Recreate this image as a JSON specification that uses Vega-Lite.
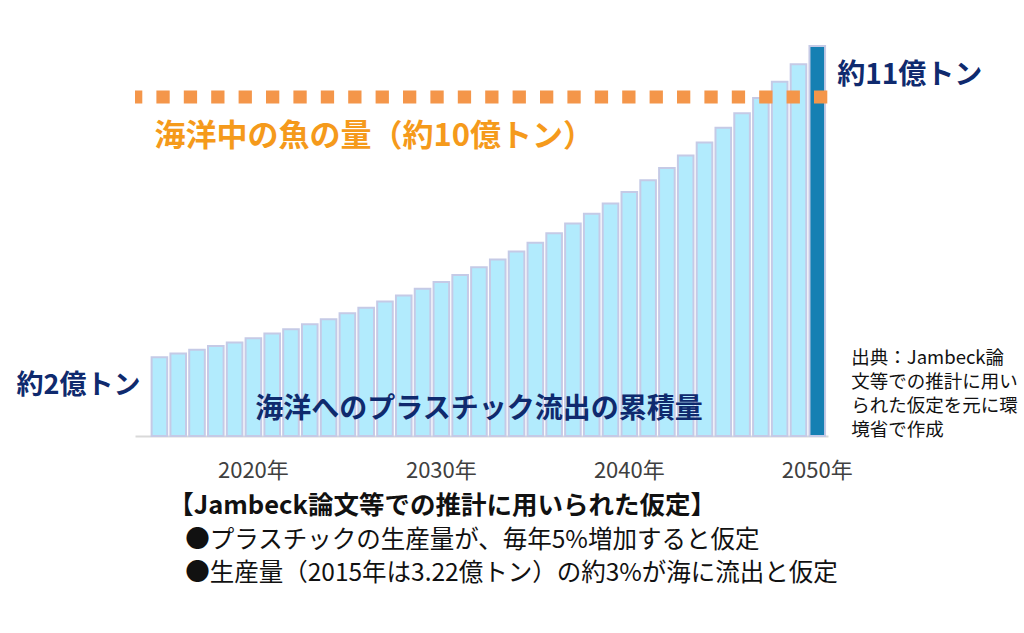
{
  "$schema": "https://vega.github.io/schema/vega-lite/v6.json",
  "width": 693,
  "height": 400,
  "autosize": {"type": "none"},
  "padding": {"left": 135, "top": 36, "right": 196, "bottom": 197},
  "background": "white",
  "config": {"view": {"stroke": null}, "font": "Noto Sans CJK JP", "text": {"font": "Noto Sans CJK JP"}},
  "datasets": {
    "outflow": [
      {"year": 2015, "value": 2.22}, {"year": 2016, "value": 2.33}, {"year": 2017, "value": 2.43},
      {"year": 2018, "value": 2.54}, {"year": 2019, "value": 2.64}, {"year": 2020, "value": 2.76},
      {"year": 2021, "value": 2.89}, {"year": 2022, "value": 3.01}, {"year": 2023, "value": 3.15},
      {"year": 2024, "value": 3.29}, {"year": 2025, "value": 3.46}, {"year": 2026, "value": 3.62},
      {"year": 2027, "value": 3.79}, {"year": 2028, "value": 3.96}, {"year": 2029, "value": 4.15},
      {"year": 2030, "value": 4.34}, {"year": 2031, "value": 4.54}, {"year": 2032, "value": 4.76},
      {"year": 2033, "value": 4.98}, {"year": 2034, "value": 5.20}, {"year": 2035, "value": 5.45},
      {"year": 2036, "value": 5.72}, {"year": 2037, "value": 5.99}, {"year": 2038, "value": 6.27},
      {"year": 2039, "value": 6.56}, {"year": 2040, "value": 6.88}, {"year": 2041, "value": 7.21},
      {"year": 2042, "value": 7.56}, {"year": 2043, "value": 7.91}, {"year": 2044, "value": 8.28},
      {"year": 2045, "value": 8.69}, {"year": 2046, "value": 9.10}, {"year": 2047, "value": 9.53},
      {"year": 2048, "value": 9.99}, {"year": 2049, "value": 10.48}, {"year": 2050, "value": 11.00}
    ],
    "one": [{"n": 1}]
  },
  "data": {"name": "one"},
  "layer": [
    {
      "data": {"name": "outflow"},
      "mark": {"type": "bar", "stroke": "#c5cae6", "strokeWidth": 2},
      "encoding": {
        "x": {
          "field": "year", "type": "ordinal",
          "scale": {"paddingInner": 0.17, "paddingOuter": 0.52, "align": 0.85},
          "axis": {
            "title": null, "labelAngle": 0, "ticks": false, "domain": true,
            "domainColor": "#d9d9d9", "domainWidth": 2, "labelOverlap": false,
            "labelExpr": "datum.value % 10 == 0 ? datum.value + '年' : ''",
            "labelFontSize": 22, "labelColor": "#404040", "labelPadding": 24,
            "labelFont": "Noto Sans CJK JP"
          }
        },
        "y": {"field": "value", "type": "quantitative", "scale": {"domain": [0, 11.28]}, "axis": null},
        "fill": {"condition": {"test": "datum.year == 2050", "value": "#1580b3"}, "value": "#b2ebfd"}
      }
    },
    {
      "mark": {"type": "rule", "color": "#f4964a", "strokeWidth": 13, "strokeDash": [13.3, 14.1], "strokeDashOffset": -0.7},
      "encoding": {"y": {"datum": 9.56, "type": "quantitative", "scale": {"domain": [0, 11.28]}}}
    },
    {
      "mark": {"type": "text", "text": "海洋中の魚の量（約10億トン）", "align": "left", "baseline": "middle", "dx": -5, "fontSize": 31, "fontWeight": "bold", "color": "#f59a1b"},
      "encoding": {"x": {"datum": 2015, "type": "ordinal"}, "y": {"datum": 8.43, "type": "quantitative", "scale": {"domain": [0, 11.28]}}}
    },
    {
      "mark": {"type": "text", "text": "海洋へのプラスチック流出の累積量", "align": "center", "baseline": "middle", "fontSize": 28, "fontWeight": "bold", "color": "#0f2a6e"},
      "encoding": {"x": {"datum": 2032, "type": "ordinal"}, "y": {"datum": 0.73, "type": "quantitative", "scale": {"domain": [0, 11.28]}}}
    },
    {
      "mark": {"type": "text", "text": "約2億トン", "align": "right", "baseline": "middle", "dx": -19, "fontSize": 27, "fontWeight": "bold", "color": "#0f2a6e"},
      "encoding": {"x": {"datum": 2015, "type": "ordinal"}, "y": {"datum": 1.41, "type": "quantitative", "scale": {"domain": [0, 11.28]}}}
    },
    {
      "mark": {"type": "text", "text": "約11億トン", "align": "left", "baseline": "middle", "dx": 20, "fontSize": 28, "fontWeight": "bold", "color": "#0f2a6e"},
      "encoding": {"x": {"datum": 2050, "type": "ordinal"}, "y": {"datum": 10.16, "type": "quantitative", "scale": {"domain": [0, 11.28]}}}
    },
    {
      "mark": {"type": "text", "text": ["出典：Jambeck論", "文等での推計に用い", "られた仮定を元に環", "境省で作成"], "align": "left", "baseline": "top", "dx": 34, "fontSize": 18.5, "lineHeight": 24, "color": "#111111"},
      "encoding": {"x": {"datum": 2050, "type": "ordinal"}, "y": {"datum": 2.45, "type": "quantitative", "scale": {"domain": [0, 11.28]}}}
    },
    {
      "mark": {"type": "text", "text": "【Jambeck論文等での推計に用いられた仮定】", "align": "left", "baseline": "middle", "dx": -10, "fontSize": 25.5, "fontWeight": "bold", "color": "#111111"},
      "encoding": {"x": {"datum": 2016, "type": "ordinal"}, "y": {"datum": -1.97, "type": "quantitative", "scale": {"domain": [0, 11.28]}}}
    },
    {
      "mark": {"type": "text", "text": "●プラスチックの生産量が、毎年5%増加すると仮定", "align": "left", "baseline": "middle", "dx": 7, "fontSize": 24.5, "color": "#111111"},
      "encoding": {"x": {"datum": 2016, "type": "ordinal"}, "y": {"datum": -2.95, "type": "quantitative", "scale": {"domain": [0, 11.28]}}}
    },
    {
      "mark": {"type": "text", "text": "●生産量（2015年は3.22億トン）の約3%が海に流出と仮定", "align": "left", "baseline": "middle", "dx": 7, "fontSize": 24.5, "color": "#111111"},
      "encoding": {"x": {"datum": 2016, "type": "ordinal"}, "y": {"datum": -3.9, "type": "quantitative", "scale": {"domain": [0, 11.28]}}}
    }
  ]
}
